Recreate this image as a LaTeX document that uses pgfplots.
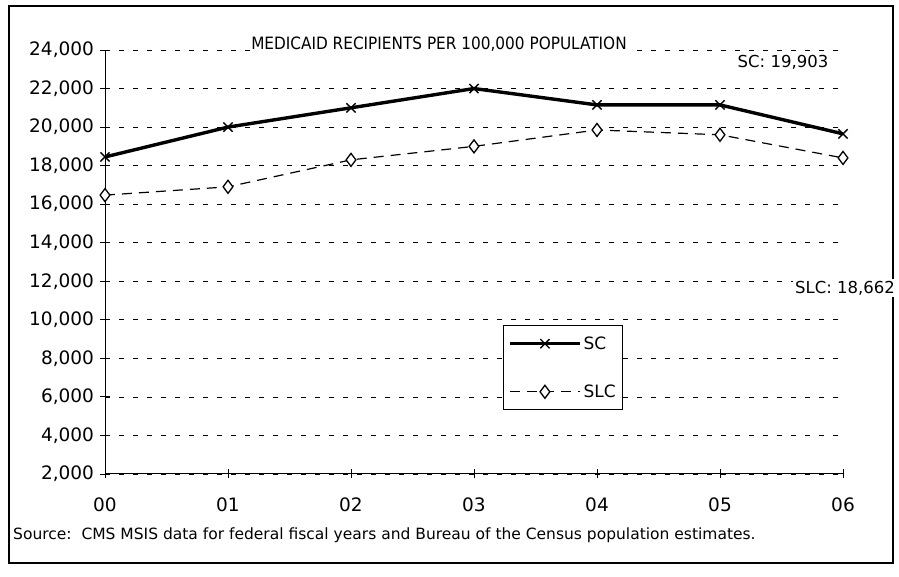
\documentclass[border=0pt]{standalone}
\usepackage{pgfplots}
\pgfplotsset{compat=1.18}
\usepackage{fontspec}
\setmainfont{DejaVu Sans}
\begin{document}
\begin{tikzpicture}[x=1pt,y=1pt]
\useasboundingbox (0,0) rectangle (899,577);
\fill[white] (0,0) rectangle (899,577);
\draw[line width=1.3pt] (9,14) rectangle (893,571);
\begin{axis}[
  at={(105pt,103pt)}, anchor=south west,
  scale only axis, width=738pt, height=424pt,
  xmin=0, xmax=6, ymin=2000, ymax=24000,
  axis x line*=bottom, axis y line*=left,
  axis line style={-, line width=1pt},
  xtick={0,1,2,3,4,5,6},
  xticklabels={00,01,02,03,04,05,06},
  ytick={2000,4000,...,24000},
  scaled y ticks=false,
  tick align=center, major tick length=9pt,
  tick style={black, line width=0.9pt},
  ymajorgrids,
  major grid style={black, line width=0.8pt, dash pattern=on 5pt off 9pt},
  /pgf/number format/.cd, 1000 sep={,}, fixed, assume math mode=true,
  /pgfplots/.cd,
  ticklabel style={font=\fontsize{18.5}{22}\selectfont},
  xticklabel style={yshift=-16pt},
  yticklabel style={xshift=-3pt},
  legend style={at={(0.539,0.351)}, anchor=north west, draw=black, line width=0.9pt,
    fill=white, font=\fontsize{17}{20}\selectfont, row sep=30pt, inner xsep=5pt, inner ysep=9pt},
  legend cell align=left,
  legend image code/.code={
    \draw[#1, mark=none] (0pt,0pt) -- (70pt,0pt);
    \draw[#1] plot coordinates {(35pt,0pt)};
  },
]
\addplot[black, line width=3.4pt, mark=x, mark size=6.5pt,
  mark options={solid, line width=1.4pt}] coordinates {
  (0,18450) (1,20000) (2,21000) (3,22000) (4,21150) (5,21150) (6,19650)
};
\addlegendentry{SC}
\addplot[black, line width=1.2pt, dash pattern=on 10pt off 7pt, mark=diamond*, mark size=6.5pt,
  mark options={solid, fill=white, line width=1.3pt}] coordinates {
  (0,16470) (1,16900) (2,18300) (3,19000) (4,19850) (5,19600) (6,18400)
};
\addlegendentry{SLC}
\end{axis}
\node[fill=white, inner sep=1pt] at (439,533) {\scalebox{0.9}[1]{\fontsize{17}{20}\selectfont MEDICAID RECIPIENTS PER 100,000 POPULATION}};
\node at (783,515) {\fontsize{16.5}{19}\selectfont SC: 19,903};
\node[fill=white, inner sep=2pt] at (845,289) {\fontsize{16.5}{19}\selectfont SLC: 18,662};
\node[anchor=west, inner sep=0pt] at (13,42) {\fontsize{15.5}{18}\selectfont Source:\ \ CMS MSIS data for federal fiscal years and Bureau of the Census population estimates.};
\end{tikzpicture}
\end{document}
